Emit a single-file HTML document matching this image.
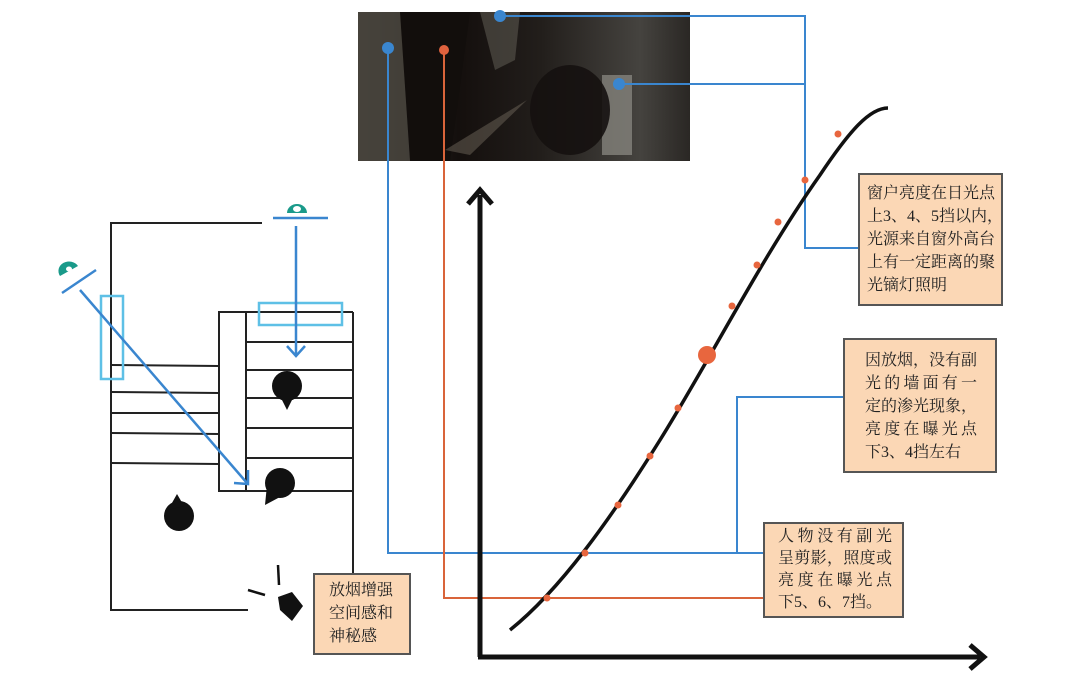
<!DOCTYPE html>
<html><head><meta charset="utf-8"><style>
html,body{margin:0;padding:0;background:#fff;width:1080px;height:675px;overflow:hidden}
.box{position:absolute;background:#fbd7b5;border:2px solid #555;font-family:"Liberation Serif","Noto Serif CJK SC",serif;font-size:16px;line-height:21px;color:#222;box-sizing:border-box;white-space:nowrap}
.box div{text-align:justify;text-align-last:justify}
.box div.l{text-align-last:left}
</style></head><body>
<svg width="1080" height="675" style="position:absolute;left:0;top:0">
<defs>
<linearGradient id="ph" x1="0" x2="1" y1="0" y2="0">
<stop offset="0" stop-color="#3a3631"/><stop offset="0.3" stop-color="#140f0d"/><stop offset="0.55" stop-color="#221e1b"/><stop offset="0.85" stop-color="#45433f"/><stop offset="1" stop-color="#2a2724"/></linearGradient>
</defs>
<rect x="358" y="12" width="332" height="149" fill="url(#ph)"/>
<polygon points="358,12 400,12 425,60 415,161 358,161" fill="#4a463f" opacity="0.8"/>
<polygon points="400,12 470,12 450,161 410,161" fill="#120e0c"/>
<polygon points="480,12 520,12 515,60 495,70" fill="#5a564f" opacity="0.6"/>
<rect x="602" y="75" width="30" height="80" fill="#8f8d86" opacity="0.7"/>
<ellipse cx="570" cy="110" rx="40" ry="45" fill="#15110f" opacity="0.9"/>
<polygon points="527,100 445,150 470,155" fill="#6e665a" opacity="0.5"/>
<g fill="none" stroke="#3a86cf" stroke-width="2">
<polyline points="500,16 805,16 805,248 860,248"/>
<polyline points="619,84 805,84"/>
<polyline points="388,48 388,553 763,553"/>
<polyline points="737,553 737,397 843,397"/>
</g>
<polyline points="444,50 444,598 763,598" fill="none" stroke="#d9643a" stroke-width="2"/>
<circle cx="500" cy="16" r="6" fill="#3a86cf"/>
<circle cx="388" cy="48" r="6" fill="#3a86cf"/>
<circle cx="619" cy="84" r="6" fill="#3a86cf"/>
<circle cx="444" cy="50" r="5" fill="#e0623e"/>
<g stroke="#111" stroke-width="5" fill="none">
<line x1="480" y1="657" x2="480" y2="195"/>
<line x1="478" y1="657" x2="980" y2="657"/>
<polyline points="468,204 480,190 492,204"/>
<polyline points="970,645 984,657 970,669"/>
</g>
<path d="M510,630 C560,590 610,520 660,440 C710,360 760,260 820,175 C850,130 870,108 888,108" fill="none" stroke="#111" stroke-width="3.5"/>
<g fill="#e8663e">
<circle cx="547" cy="598" r="3.5"/><circle cx="585" cy="553" r="3.5"/><circle cx="618" cy="505" r="3.5"/><circle cx="650" cy="456" r="3.5"/><circle cx="678" cy="408" r="3.5"/><circle cx="707" cy="355" r="9"/><circle cx="732" cy="306" r="3.5"/><circle cx="757" cy="265" r="3.5"/><circle cx="778" cy="222" r="3.5"/><circle cx="805" cy="180" r="3.5"/><circle cx="838" cy="134" r="3.5"/>
</g>
<g stroke="#222" stroke-width="2" fill="none">
<polyline points="262,223 111,223 111,610 248,610"/>
<line x1="353" y1="312" x2="353" y2="573"/>
<rect x="219" y="312" width="27" height="179" fill="#fff"/>
<line x1="246" y1="312" x2="353" y2="312"/>
<line x1="246" y1="342" x2="353" y2="342"/>
<line x1="246" y1="370" x2="353" y2="370"/>
<line x1="246" y1="398" x2="353" y2="398"/>
<line x1="246" y1="428" x2="353" y2="428"/>
<line x1="246" y1="458" x2="353" y2="458"/>
<line x1="246" y1="491" x2="353" y2="491"/>
<line x1="111" y1="365" x2="219" y2="366"/>
<line x1="111" y1="392" x2="219" y2="393"/>
<line x1="111" y1="413" x2="219" y2="413"/>
<line x1="111" y1="433" x2="219" y2="434"/>
<line x1="111" y1="463" x2="219" y2="464"/>
</g>
<g stroke="#5ec0e6" stroke-width="2.5" fill="none">
<rect x="101" y="296" width="22" height="83"/>
<rect x="259" y="303" width="83" height="22"/>
</g>
<g stroke="#3a86cf" stroke-width="2.5" fill="none">
<line x1="273" y1="218" x2="328" y2="218"/>
<line x1="62" y1="293" x2="96" y2="270"/>
<line x1="296" y1="226" x2="296" y2="356"/>
<polyline points="287,346 296,356 305,346"/>
<line x1="80" y1="290" x2="247" y2="483"/>
<polyline points="234,483 248,484 248,470"/>
</g>
<g fill="#1a9a8a"><path d="M287,213 a10,9 0 0 1 20,0 z"/><path d="M60,276 a10,9 0 0 1 18,-10 z"/></g>
<g fill="#fff"><ellipse cx="297" cy="209" rx="4" ry="3"/><ellipse cx="69" cy="269" rx="3" ry="2.5"/></g>
<g fill="#111">
<circle cx="287" cy="386" r="15"/><polygon points="280,396 294,396 287,410"/>
<circle cx="280" cy="483" r="15"/><polygon points="267,485 280,497 265,505"/>
<circle cx="179" cy="516" r="15"/><polygon points="168,510 184,506 177,494"/>
<polygon points="278,597 292,592 303,606 292,621 280,610"/>
</g>
<g stroke="#111" stroke-width="2.5"><line x1="278" y1="565" x2="279" y2="585"/><line x1="248" y1="590" x2="265" y2="595"/></g>
</svg>
<div class="box" style="left:858px;top:173px;width:145px;height:133px;padding:7px 6px 0 7px;line-height:23px">
<div>窗户亮度在日光点</div><div>上3、4、5挡以内，</div><div>光源来自窗外高台</div><div>上有一定距离的聚</div><div class="l">光镝灯照明</div></div>
<div class="box" style="left:843px;top:338px;width:154px;height:135px;padding:9px 18px 0 20px;line-height:23px">
<div>因放烟，没有副</div><div>光的墙面有一</div><div>定的渗光现象，</div><div>亮度在曝光点</div><div class="l">下3、4挡左右</div></div>
<div class="box" style="left:763px;top:522px;width:141px;height:96px;padding:2px 10px 0 13px;line-height:22px">
<div>人物没有副光</div><div>呈剪影，照度或</div><div>亮度在曝光点</div><div class="l">下5、6、7挡。</div></div>
<div class="box" style="left:313px;top:573px;width:98px;height:82px;padding:4px 10px 0 14px;line-height:23px">
<div class="l">放烟增强</div><div class="l">空间感和</div><div class="l">神秘感</div></div>
</body></html>
